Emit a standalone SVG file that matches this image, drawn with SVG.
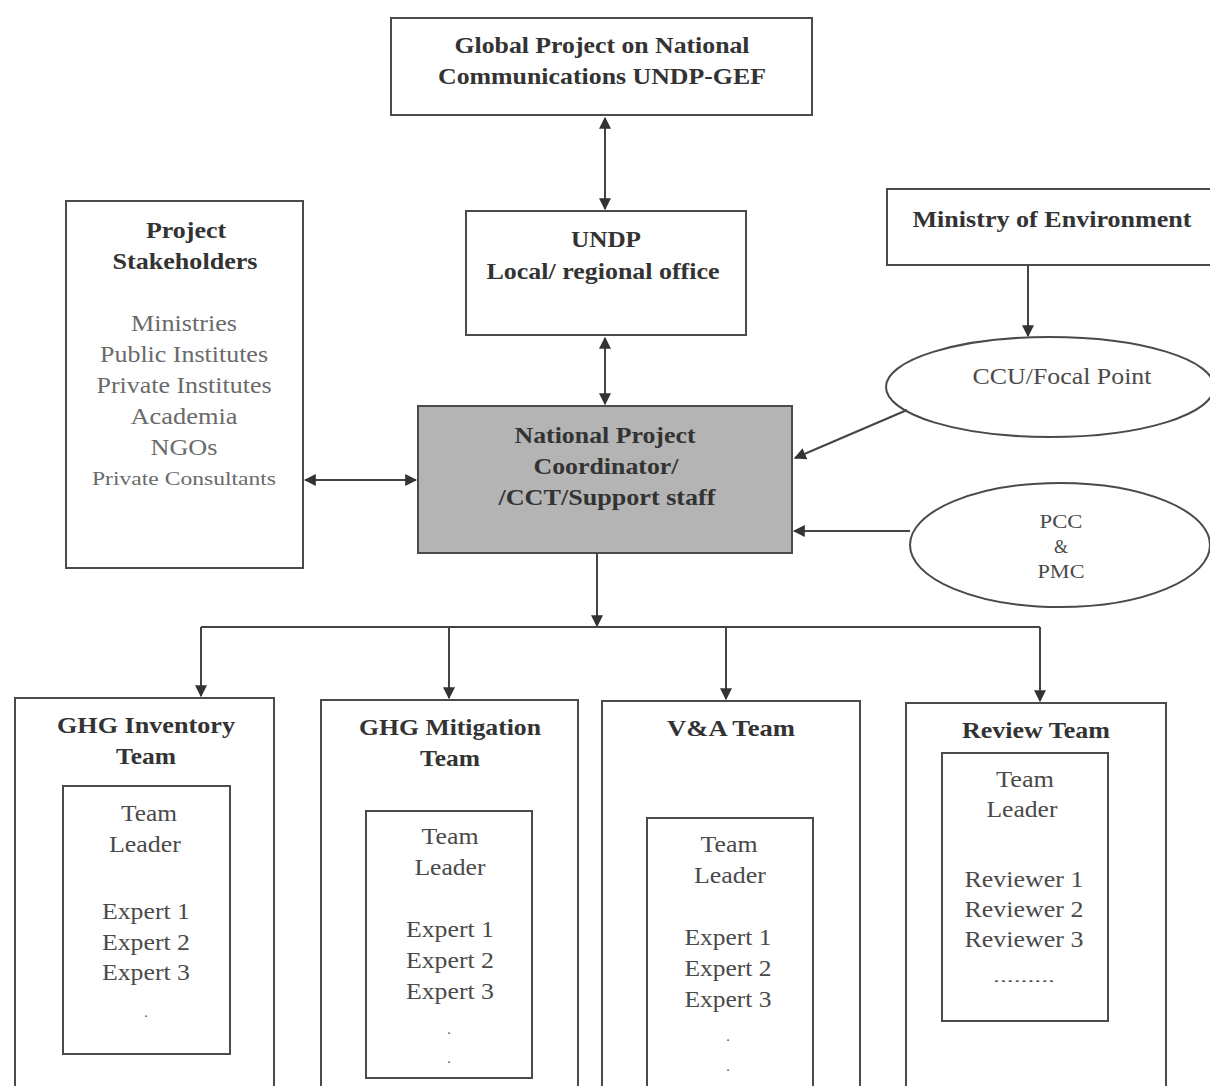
<svg xmlns="http://www.w3.org/2000/svg" width="1210" height="1086" viewBox="0 0 1210 1086">
<defs>
<marker id="ah" viewBox="0 0 10 10" refX="9" refY="5" markerWidth="12" markerHeight="12" markerUnits="userSpaceOnUse" orient="auto-start-reverse">
<path d="M0,0 L10,5 L0,10 z" fill="#333"/>
</marker>
<style>
.box{fill:#fff;stroke:#4a4a4a;stroke-width:2}
.grey{fill:#b4b4b4;stroke:#4a4a4a;stroke-width:2}
.t{font-family:"Liberation Serif","Times New Roman",serif;font-size:23px;fill:#4a4a4a;text-anchor:middle}
.b{font-weight:bold;fill:#333}
.l{fill:#6a6a6a}
.c{stroke:#444;stroke-width:2;fill:none}
</style>
</defs>
<rect width="1210" height="1086" fill="#fff"/>
<g id="global">
<rect class="box" x="391" y="18" width="421" height="97"/>
<text class="t b" x="602" y="53" textLength="295" lengthAdjust="spacingAndGlyphs">Global Project on National</text>
<text class="t b" x="602" y="84" textLength="328" lengthAdjust="spacingAndGlyphs">Communications UNDP-GEF</text>
</g>
<g id="undp">
<rect class="box" x="466" y="211" width="280" height="124"/>
<text class="t b" x="606" y="247" textLength="70" lengthAdjust="spacingAndGlyphs">UNDP</text>
<text class="t b" x="603" y="279" textLength="233" lengthAdjust="spacingAndGlyphs">Local/ regional office</text>
</g>
<g id="ministry">
<rect class="box" x="887" y="189" width="330" height="76"/>
<text class="t b" x="1052" y="227" textLength="279" lengthAdjust="spacingAndGlyphs">Ministry of Environment</text>
</g>
<g id="ccu">
<ellipse class="box" cx="1050" cy="387" rx="164" ry="50"/>
<text class="t" x="1062" y="384" textLength="179" lengthAdjust="spacingAndGlyphs">CCU/Focal Point</text>
</g>
<g id="pcc">
<ellipse class="box" cx="1060" cy="545" rx="150" ry="62"/>
<text class="t" x="1061" y="528" style="font-size:18px" textLength="43" lengthAdjust="spacingAndGlyphs">PCC</text>
<text class="t" x="1061" y="553" style="font-size:18px">&amp;</text>
<text class="t" x="1061" y="578" style="font-size:18px" textLength="47" lengthAdjust="spacingAndGlyphs">PMC</text>
</g>
<g id="stakeholders">
<rect class="box" x="66" y="201" width="237" height="367"/>
<text class="t b" x="186" y="238" textLength="80" lengthAdjust="spacingAndGlyphs">Project</text>
<text class="t b" x="185" y="269" textLength="145" lengthAdjust="spacingAndGlyphs">Stakeholders</text>
<text class="t l" x="184" y="331" textLength="106" lengthAdjust="spacingAndGlyphs">Ministries</text>
<text class="t l" x="184" y="362" textLength="168" lengthAdjust="spacingAndGlyphs">Public Institutes</text>
<text class="t l" x="184" y="393" textLength="175" lengthAdjust="spacingAndGlyphs">Private Institutes</text>
<text class="t l" x="184" y="424" textLength="107" lengthAdjust="spacingAndGlyphs">Academia</text>
<text class="t l" x="184" y="455" textLength="67" lengthAdjust="spacingAndGlyphs">NGOs</text>
<text class="t l" x="184" y="485" style="font-size:19px" textLength="184" lengthAdjust="spacingAndGlyphs">Private Consultants</text>
</g>
<g id="npc">
<rect class="grey" x="418" y="406" width="374" height="147"/>
<text class="t b" x="605" y="443" textLength="181" lengthAdjust="spacingAndGlyphs">National Project</text>
<text class="t b" x="606" y="474" textLength="145" lengthAdjust="spacingAndGlyphs">Coordinator/</text>
<text class="t b" x="607" y="505" textLength="217" lengthAdjust="spacingAndGlyphs">/CCT/Support staff</text>
</g>
<g id="ghg-inventory">
<rect class="box" x="15" y="698" width="259" height="400"/>
<text class="t b" x="146" y="733" textLength="178" lengthAdjust="spacingAndGlyphs">GHG Inventory</text>
<text class="t b" x="146" y="764" textLength="60" lengthAdjust="spacingAndGlyphs">Team</text>
<rect class="box" x="63" y="786" width="167" height="268"/>
<text class="t" x="149" y="821" textLength="56" lengthAdjust="spacingAndGlyphs">Team</text>
<text class="t" x="145" y="852" textLength="72" lengthAdjust="spacingAndGlyphs">Leader</text>
<text class="t" x="146" y="919" textLength="88" lengthAdjust="spacingAndGlyphs">Expert 1</text>
<text class="t" x="146" y="950" textLength="88" lengthAdjust="spacingAndGlyphs">Expert 2</text>
<text class="t" x="146" y="980" textLength="88" lengthAdjust="spacingAndGlyphs">Expert 3</text>
<text class="t" x="146" y="1017" style="font-size:14px">.</text>
</g>
<g id="ghg-mitigation">
<rect class="box" x="321" y="700" width="257" height="400"/>
<text class="t b" x="450" y="735" textLength="182" lengthAdjust="spacingAndGlyphs">GHG Mitigation</text>
<text class="t b" x="450" y="766" textLength="60" lengthAdjust="spacingAndGlyphs">Team</text>
<rect class="box" x="366" y="811" width="166" height="267"/>
<text class="t" x="450" y="844" textLength="57" lengthAdjust="spacingAndGlyphs">Team</text>
<text class="t" x="450" y="875" textLength="71" lengthAdjust="spacingAndGlyphs">Leader</text>
<text class="t" x="450" y="937" textLength="88" lengthAdjust="spacingAndGlyphs">Expert 1</text>
<text class="t" x="450" y="968" textLength="88" lengthAdjust="spacingAndGlyphs">Expert 2</text>
<text class="t" x="450" y="999" textLength="88" lengthAdjust="spacingAndGlyphs">Expert 3</text>
<text class="t" x="449" y="1034" style="font-size:14px">.</text>
<text class="t" x="449" y="1063" style="font-size:14px">.</text>
</g>
<g id="va-team">
<rect class="box" x="602" y="701" width="258" height="400"/>
<text class="t b" x="731" y="736" textLength="128" lengthAdjust="spacingAndGlyphs">V&amp;A Team</text>
<rect class="box" x="647" y="818" width="166" height="280"/>
<text class="t" x="729" y="852" textLength="57" lengthAdjust="spacingAndGlyphs">Team</text>
<text class="t" x="730" y="883" textLength="72" lengthAdjust="spacingAndGlyphs">Leader</text>
<text class="t" x="728" y="945" textLength="87" lengthAdjust="spacingAndGlyphs">Expert 1</text>
<text class="t" x="728" y="976" textLength="87" lengthAdjust="spacingAndGlyphs">Expert 2</text>
<text class="t" x="728" y="1007" textLength="87" lengthAdjust="spacingAndGlyphs">Expert 3</text>
<text class="t" x="728" y="1041" style="font-size:14px">.</text>
<text class="t" x="728" y="1071" style="font-size:14px">.</text>
</g>
<g id="review-team">
<rect class="box" x="906" y="703" width="260" height="400"/>
<text class="t b" x="1036" y="738" textLength="148" lengthAdjust="spacingAndGlyphs">Review Team</text>
<rect class="box" x="942" y="753" width="166" height="268"/>
<text class="t" x="1025" y="787" textLength="58" lengthAdjust="spacingAndGlyphs">Team</text>
<text class="t" x="1022" y="817" textLength="71" lengthAdjust="spacingAndGlyphs">Leader</text>
<text class="t" x="1024" y="887" textLength="119" lengthAdjust="spacingAndGlyphs">Reviewer 1</text>
<text class="t" x="1024" y="917" textLength="119" lengthAdjust="spacingAndGlyphs">Reviewer 2</text>
<text class="t" x="1024" y="947" textLength="119" lengthAdjust="spacingAndGlyphs">Reviewer 3</text>
<text class="t" x="1024" y="982" style="font-size:14px" textLength="62" lengthAdjust="spacingAndGlyphs">.........</text>
</g>
<g id="connectors">
<line class="c" x1="605" y1="118" x2="605" y2="209" marker-start="url(#ah)" marker-end="url(#ah)"/>
<line class="c" x1="605" y1="338" x2="605" y2="404" marker-start="url(#ah)" marker-end="url(#ah)"/>
<line class="c" x1="305" y1="480" x2="416" y2="480" marker-start="url(#ah)" marker-end="url(#ah)"/>
<line class="c" x1="1028" y1="265" x2="1028" y2="336" marker-end="url(#ah)"/>
<line class="c" x1="907" y1="410" x2="795" y2="458" marker-end="url(#ah)"/>
<line class="c" x1="910" y1="531" x2="794" y2="531" marker-end="url(#ah)"/>
<line class="c" x1="597" y1="553" x2="597" y2="626" marker-end="url(#ah)"/>
<line class="c" x1="201" y1="627" x2="1040" y2="627"/>
<line class="c" x1="201" y1="627" x2="201" y2="696" marker-end="url(#ah)"/>
<line class="c" x1="449" y1="627" x2="449" y2="698" marker-end="url(#ah)"/>
<line class="c" x1="726" y1="627" x2="726" y2="699" marker-end="url(#ah)"/>
<line class="c" x1="1040" y1="627" x2="1040" y2="701" marker-end="url(#ah)"/>
</g>
</svg>
